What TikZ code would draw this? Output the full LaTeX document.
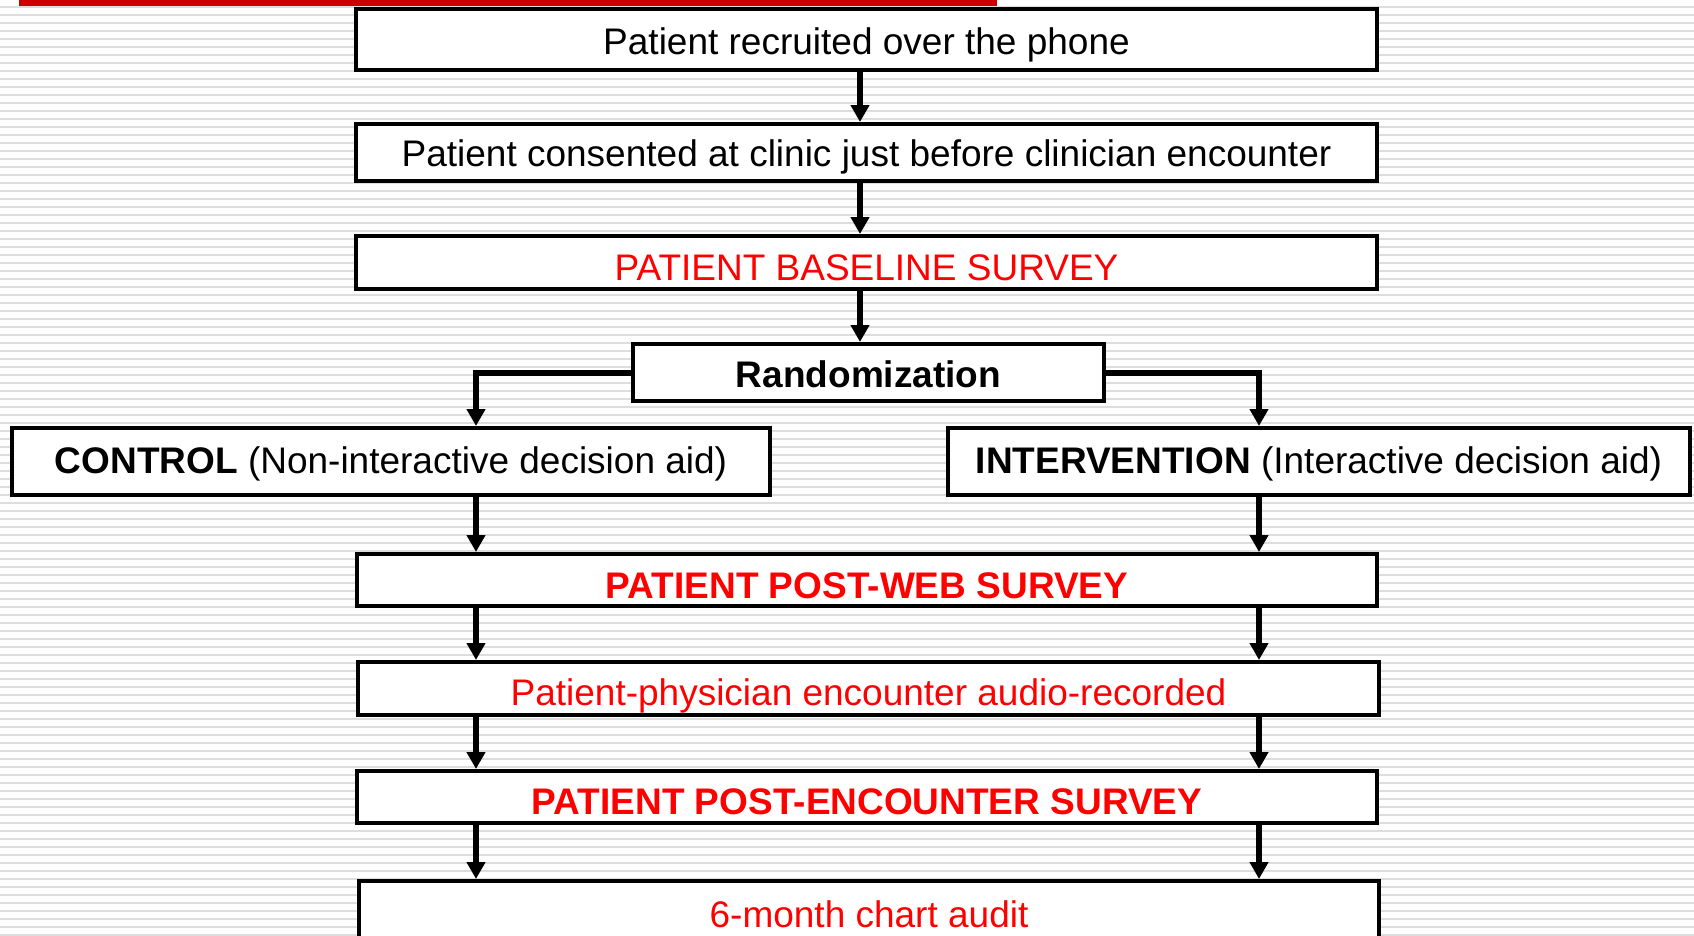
\documentclass[tikz,border=0pt]{standalone}
\usepackage{fontspec}
\setmainfont{Liberation Sans}
\usetikzlibrary{arrows.meta}
\definecolor{stripegray}{RGB}{221,221,221}
\definecolor{barred}{RGB}{204,0,0}
\definecolor{txtred}{RGB}{255,0,0}
\tikzset{
  box/.style={draw=black, line width=4pt, fill=white, inner sep=0pt, font=\fontsize{37}{40}\selectfont},
  bl/.style={text height=#1, text depth=0pt},
  redtxt/.style={text=txtred},
  arr/.style={line width=6pt, -{Triangle[width=18pt,length=17pt]}},
  stripe/.style={draw=stripegray, line width=2pt},
}
\begin{document}
\begin{tikzpicture}[x=1pt, y=-1pt]
\useasboundingbox (0,0) rectangle (1694,935);
\foreach \yy in {7,15,...,935} \draw[stripe] (0,\yy) -- (1694,\yy);
\fill[barred] (19,0) rectangle (997,6);
\coordinate (cx) at (860,0);
\coordinate (lx) at (476,0);
\coordinate (rx) at (1259,0);
\node[box, bl=30pt, minimum width=1021pt, minimum height=61pt] (n1) at (866.5,39.5) {Patient recruited over the phone};
\node[box, bl=28pt, minimum width=1021pt, minimum height=57pt] (n2) at (866.5,152.5) {Patient consented at clinic just before clinician encounter};
\node[box, bl=36pt, redtxt, minimum width=1021pt, minimum height=53pt] (n3) at (866.5,262.5) {PATIENT BASELINE SURVEY};
\node[box, bl=30pt, minimum width=471pt, minimum height=57pt] (rand) at (868.5,372.5) {\textbf{Randomization}};
\node[box, bl=24pt, minimum width=758pt, minimum height=67pt] (ctrl) at (391,461.5) {\textbf{CONTROL} (Non-interactive decision aid)};
\node[box, bl=24pt, minimum width=742pt, minimum height=67pt] (intv) at (1319,461.5) {\textbf{INTERVENTION} (Interactive decision aid)};
\node[box, bl=36pt, redtxt, minimum width=1020pt, minimum height=52pt] (web) at (867,580) {\textbf{PATIENT POST-WEB SURVEY}};
\node[box, bl=34pt, redtxt, minimum width=1021pt, minimum height=53pt] (audio) at (868.5,688.5) {Patient-physician encounter audio-recorded};
\node[box, bl=35pt, redtxt, minimum width=1020pt, minimum height=52pt] (enc) at (867,797) {\textbf{PATIENT POST-ENCOUNTER SURVEY}};
\node[box, bl=32pt, redtxt, minimum width=1020pt, minimum height=60pt] (audit) at (869,911) {6-month chart audit};
\draw[arr] (n1.south -| cx) -- (n2.north -| cx);
\draw[arr] (n2.south -| cx) -- (n3.north -| cx);
\draw[arr] (n3.south -| cx) -- (rand.north -| cx);
\draw[arr] (rand.west) -| (ctrl.north -| lx);
\draw[arr] (rand.east) -| (intv.north -| rx);
\draw[arr] (ctrl.south -| lx) -- (web.north -| lx);
\draw[arr] (intv.south -| rx) -- (web.north -| rx);
\draw[arr] (web.south -| lx) -- (audio.north -| lx);
\draw[arr] (web.south -| rx) -- (audio.north -| rx);
\draw[arr] (audio.south -| lx) -- (enc.north -| lx);
\draw[arr] (audio.south -| rx) -- (enc.north -| rx);
\draw[arr] (enc.south -| lx) -- (audit.north -| lx);
\draw[arr] (enc.south -| rx) -- (audit.north -| rx);
\end{tikzpicture}
\end{document}
